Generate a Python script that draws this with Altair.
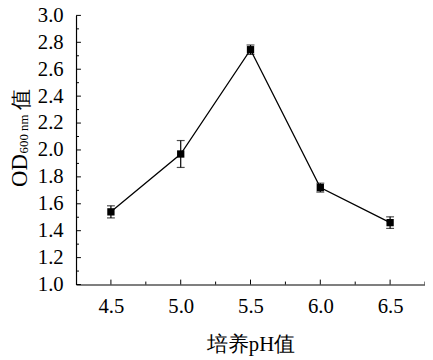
import altair as alt
import pandas as pd

ph = [4.5, 5.0, 5.5, 6.0, 6.5]
od = [1.54, 1.97, 2.745, 1.72, 1.46]
err = [0.045, 0.10, 0.035, 0.033, 0.043]

y_major = [1.0, 1.2, 1.4, 1.6, 1.8, 2.0, 2.2, 2.4, 2.6, 2.8, 3.0]
y_minor = [1.1, 1.3, 1.5, 1.7, 1.9, 2.1, 2.3, 2.5, 2.7, 2.9]
x_major = [4.5, 5.0, 5.5, 6.0, 6.5]
x_minor = [4.75, 5.25, 5.75, 6.25, 6.75]

FONT = "Liberation Serif"

df = pd.DataFrame({"ph": ph, "od": od, "err": err})
df["lo"] = df["od"] - df["err"]
df["hi"] = df["od"] + df["err"]

xs = alt.Scale(domain=[4.25, 6.75], nice=False, zero=False)
ys = alt.Scale(domain=[1.0, 3.0], nice=False, zero=False)

common = dict(domainColor="black", domainWidth=1.2, labelFont=FONT, labelFontSize=21,
              labelColor="black", ticks=False, grid=False, labelFlush=False,
              labelOverlap=False, format=".1f")
xaxis = alt.Axis(values=x_major, labelPadding=11,
                 title="培养pH值", titleFont=FONT, titleFontSize=21, titleColor="black",
                 titleFontWeight="normal", titlePadding=18, **common)
yaxis = alt.Axis(values=y_major, labelPadding=13, title=None, **common)


def X(f):
    return alt.X(f, scale=xs, axis=xaxis)


def Y(f):
    return alt.Y(f, scale=ys, axis=yaxis)


base = alt.Chart(df)

line = base.mark_line(color="black", strokeWidth=1.3).encode(x=X("ph:Q"), y=Y("od:Q"))
bars = base.mark_rule(color="black", strokeWidth=1.2).encode(
    x=X("ph:Q"), y=Y("lo:Q"), y2="hi:Q")
cap_hi = base.mark_tick(orient="horizontal", color="black", size=8, thickness=1.2).encode(
    x=X("ph:Q"), y=Y("hi:Q"))
cap_lo = base.mark_tick(orient="horizontal", color="black", size=8, thickness=1.2).encode(
    x=X("ph:Q"), y=Y("lo:Q"))
pts = base.mark_square(color="black", size=55, opacity=1).encode(x=X("ph:Q"), y=Y("od:Q"))

# inward ticks
ymaj = alt.Chart(pd.DataFrame({"v": y_major})).mark_rule(color="black", strokeWidth=1).encode(
    y=Y("v:Q"), x=alt.value(0), x2=alt.value(5))
ymin = alt.Chart(pd.DataFrame({"v": y_minor})).mark_rule(color="black", strokeWidth=1).encode(
    y=Y("v:Q"), x=alt.value(0), x2=alt.value(3))
xmaj = alt.Chart(pd.DataFrame({"v": x_major})).mark_rule(color="black", strokeWidth=1).encode(
    x=X("v:Q"), y=alt.value(273), y2=alt.value(268))
xmin = alt.Chart(pd.DataFrame({"v": x_minor})).mark_rule(color="black", strokeWidth=1).encode(
    x=X("v:Q"), y=alt.value(273), y2=alt.value(270))

# y title with subscript
t_od = alt.Chart(pd.DataFrame({"t": ["OD"]})).mark_text(
    angle=270, align="left", baseline="alphabetic", font=FONT, fontSize=23, color="black"
).encode(text="t:N", x=alt.value(-50), y=alt.value(174))
t_sub = alt.Chart(pd.DataFrame({"t": ["600 nm"]})).mark_text(
    angle=270, align="left", baseline="alphabetic", font=FONT, fontSize=13, color="black"
).encode(text="t:N", x=alt.value(-49), y=alt.value(140))
t_zhi = alt.Chart(pd.DataFrame({"t": ["值"]})).mark_text(
    angle=270, align="left", baseline="alphabetic", font=FONT, fontSize=21, color="black"
).encode(text="t:N", x=alt.value(-49), y=alt.value(96))

chart = alt.layer(line, bars, cap_hi, cap_lo, pts, ymaj, ymin, xmaj, xmin,
                  t_od, t_sub, t_zhi).properties(
    width=354, height=273,
    autosize=alt.AutoSizeParams(type="none"),
    padding={"left": 69, "top": 5, "right": 0, "bottom": 70},
).configure_view(stroke=None)

chart.save("out.html", embed_options={"renderer": "svg", "actions": False})
